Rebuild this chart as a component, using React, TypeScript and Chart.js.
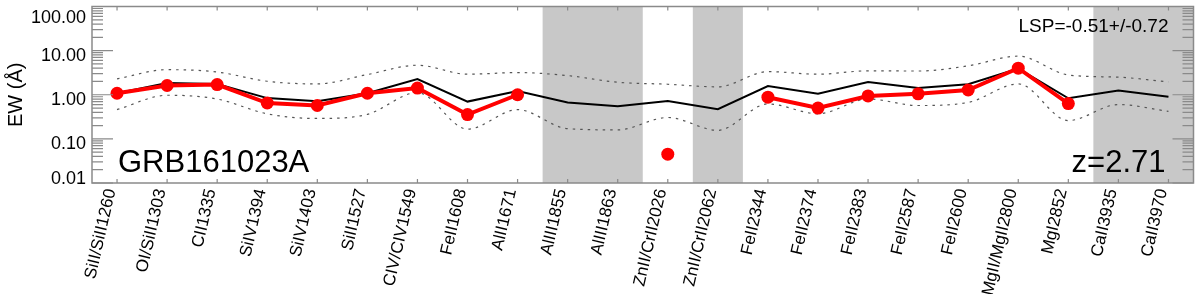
import React, { useEffect, useRef } from 'react';
import { Chart, registerables } from 'chart.js';

Chart.register(...registerables);

const categories = [
  'SiII/SiII1260', 'OI/SiII1303', 'CII1335', 'SiIV1394', 'SiIV1403', 'SiII1527',
  'CIV/CIV1549', 'FeII1608', 'AlII1671', 'AlIII1855', 'AlIII1863', 'ZnII/CrII2026',
  'ZnII/CrII2062', 'FeII2344', 'FeII2374', 'FeII2383', 'FeII2587', 'FeII2600',
  'MgII/MgII2800', 'MgI2852', 'CaII3935', 'CaII3970',
];

const meanEW = [1.08, 1.85, 1.76, 0.84, 0.71, 1.08, 2.27, 0.70, 1.22, 0.67, 0.55, 0.72,
  0.47, 1.57, 1.06, 1.95, 1.42, 1.73, 3.9, 0.83, 1.25, 0.90];

const upperEW = [2.30, 3.70, 3.27, 2.02, 1.76, 2.87, 4.67, 2.92, 3.18, 2.72, 1.92, 1.73,
  1.51, 3.34, 2.92, 3.48, 3.45, 4.52, 7.5, 2.81, 2.5, 1.95];

const lowerEW = [0.46, 0.975, 0.80, 0.37, 0.29, 0.36, 1.12, 0.166, 0.46, 0.17, 0.16, 0.305,
  0.156, 0.62, 0.37, 0.80, 0.57, 0.67, 1.76, 0.26, 0.60, 0.42];

const grbEW = [1.08, 1.62, 1.70, 0.65, 0.57, 1.08, 1.42, 0.355, 1.0, null, null, 0.045,
  null, 0.88, 0.50, 0.94, 1.05, 1.28, 4.0, 0.63, null, null];

const yTickValues = [0.01, 0.1, 1, 10, 100];
const yMinorMultipliers = [2, 3, 4, 5, 6, 7, 8, 9];
const shadedRanges = [[8.5, 10.5], [11.5, 12.5], [19.5, 21.5]];

const grbName = 'GRB161023A';
const redshiftText = 'z=2.71';
const lspText = 'LSP=-0.51+/-0.72';
const yTitle = 'EW (Å)';

const FONT = '"Liberation Sans", Arial, Helvetica, sans-serif';
const AXIS_COLOR = '#8a8a8a';

const decorPlugin = {
  id: 'decor',
  beforeDatasetsDraw(chart: any) {
    const { ctx, chartArea: a, scales } = chart;
    const x = scales.x;
    ctx.save();
    ctx.fillStyle = '#c8c8c8';
    for (const [s, e] of shadedRanges) {
      const x0 = Math.max(a.left, x.getPixelForValue(s));
      const x1 = Math.min(a.right, x.getPixelForValue(e));
      ctx.fillRect(x0, a.top, x1 - x0, a.bottom - a.top);
    }
    ctx.restore();
  },
  afterDatasetsDraw(chart: any) {
    const { ctx, chartArea: a, scales } = chart;
    const x = scales.x;
    const y = scales.y;
    ctx.save();
    // frame
    ctx.strokeStyle = AXIS_COLOR;
    ctx.lineWidth = 1.5;
    ctx.strokeRect(a.left, a.top, a.right - a.left, a.bottom - a.top);
    // y ticks (left & right, inward)
    ctx.lineWidth = 1.2;
    ctx.beginPath();
    for (let d = 0; d < yTickValues.length; d++) {
      const v = yTickValues[d];
      const py = y.getPixelForValue(v);
      ctx.moveTo(a.left, py); ctx.lineTo(a.left + 21, py);
      ctx.moveTo(a.right, py); ctx.lineTo(a.right - 21, py);
      if (d < yTickValues.length - 1) {
        for (const m of yMinorMultipliers) {
          const pm = y.getPixelForValue(v * m);
          ctx.moveTo(a.left, pm); ctx.lineTo(a.left + 11, pm);
          ctx.moveTo(a.right, pm); ctx.lineTo(a.right - 11, pm);
        }
      }
    }
    // x ticks top & bottom
    for (let i = 0; i < categories.length; i++) {
      const px = x.getPixelForValue(i);
      ctx.moveTo(px, a.bottom); ctx.lineTo(px, a.bottom - 4);
      ctx.moveTo(px, a.top); ctx.lineTo(px, a.top + 4);
    }
    ctx.stroke();

    // y tick labels
    ctx.fillStyle = '#000';
    ctx.font = `18px ${FONT}`;
    ctx.textAlign = 'right';
    ctx.textBaseline = 'alphabetic';
    for (const v of yTickValues) {
      const py = y.getPixelForValue(v);
      const c = Math.min(a.bottom - 6, Math.max(a.top + 10, py + 3.5));
      ctx.fillText(v.toFixed(2), a.left - 6, c + 6.5);
    }

    // annotations
    ctx.font = `31px ${FONT}`;
    ctx.textAlign = 'left';
    ctx.fillText(grbName, a.left + 26, a.bottom - 11);
    ctx.textAlign = 'right';
    ctx.fillText(redshiftText, a.right - 28, a.bottom - 11);
    ctx.font = `19px ${FONT}`;
    ctx.fillText(lspText, a.right - 25, a.top + 25);
    ctx.restore();
  },
};

export default function App() {
  const ref = useRef<HTMLCanvasElement | null>(null);
  useEffect(() => {
    if (!ref.current) return;
    const dotted = {
      borderColor: '#555555',
      borderWidth: 1.2,
      borderDash: [2.5, 5],
      pointRadius: 0,
      cubicInterpolationMode: 'monotone' as const,
      fill: false,
    };
    const chart = new Chart(ref.current, {
      type: 'line',
      data: {
        labels: categories,
        datasets: [
          {
            label: 'GRB',
            data: grbEW,
            borderColor: '#ff0000',
            backgroundColor: '#ff0000',
            borderWidth: 4,
            pointRadius: 6.5,
            pointBorderWidth: 0,
            pointBackgroundColor: '#ff0000',
            spanGaps: false,
          },
          {
            label: 'mean',
            data: meanEW,
            borderColor: '#000000',
            borderWidth: 2,
            pointRadius: 0,
          },
          { label: 'upper', data: upperEW, ...dotted },
          { label: 'lower', data: lowerEW, ...dotted },
        ],
      },
      options: {
        responsive: false,
        animation: false,
        events: [],
        layout: { padding: { left: 0, right: 1, top: 1, bottom: 0 } },
        plugins: { legend: { display: false }, tooltip: { enabled: false } },
        scales: {
          x: {
            type: 'category',
            offset: true,
            grid: { display: false, drawTicks: false },
            border: { display: false },
            ticks: {
              autoSkip: false,
              minRotation: 77,
              maxRotation: 77,
              padding: 4,
              labelOffset: -6,
              color: '#000',
              font: { family: FONT, size: 17 },
            },
            afterFit: (s: any) => { s.height = 111; },
          },
          y: {
            type: 'logarithmic',
            min: 0.01,
            max: 100,
            grid: { display: false },
            border: { display: false },
            ticks: { display: false },
            title: {
              display: true,
              text: yTitle,
              color: '#000',
              font: { family: FONT, size: 20 },
              padding: { top: 4, bottom: 0 },
            },
            afterFit: (s: any) => { s.width = 92; },
          },
        },
      },
      plugins: [decorPlugin],
    });
    return () => chart.destroy();
  }, []);
  return (
    <div style={{ position: 'absolute', left: 0, top: 0, width: 1200, height: 294, background: '#fff' }}>
      <canvas ref={ref} width={1200} height={294} style={{ width: 1200, height: 294 }} />
    </div>
  );
}
